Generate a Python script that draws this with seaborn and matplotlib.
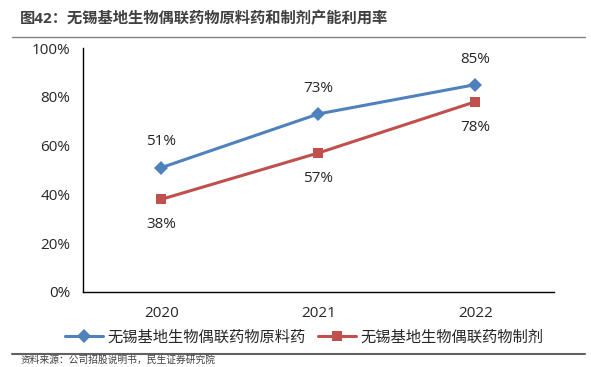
import numpy as np
import pandas as pd
import seaborn as sns
import matplotlib.pyplot as plt
from matplotlib.ticker import PercentFormatter

years = ['2020', '2021', '2022']
api = [51, 73, 85]
drug = [38, 57, 78]
api_name = '无锡基地生物偶联药物原料药'
drug_name = '无锡基地生物偶联药物制剂'

sns.set_style('white')
plt.rcParams['font.family'] = ['Open Sans', 'Noto Sans CJK SC', 'DejaVu Sans']

df = pd.DataFrame({'x': list(range(len(years))) * 2,
                   'val': api + drug,
                   'series': [api_name] * 3 + [drug_name] * 3})

fig = plt.figure(figsize=(5.91, 3.67), dpi=100)
ax = fig.add_axes([0.1404, 0.2044, 0.797, 0.6648])

sns.lineplot(data=df, x='x', y='val', hue='series', style='series',
             palette=['#4F81BD', '#C0504D'], markers=['D', 's'], dashes=False,
             markersize=7, linewidth=2.2, markeredgewidth=0, ax=ax)

for i, v in enumerate(api):
    ax.annotate(f'{v}%', (i, v), xytext=(0, 13), textcoords='offset points',
                ha='center', va='bottom', fontsize=11)
for i, v in enumerate(drug):
    ax.annotate(f'{v}%', (i, v), xytext=(0, -13), textcoords='offset points',
                ha='center', va='top', fontsize=11)

ax.set_xlim(-0.5, 2.5)
ax.set_ylim(0, 100)
ax.set_yticks(np.arange(0, 101, 20))
ax.yaxis.set_major_formatter(PercentFormatter(decimals=0))
ax.set_xticks([-0.5, 0.5, 1.5, 2.5])
ax.set_xticklabels([])
ax.set_xticks(range(len(years)), minor=True)
ax.set_xticklabels(years, minor=True)
ax.tick_params(axis='x', which='major', length=5, width=1, direction='out', color='black')
ax.tick_params(axis='x', which='minor', length=0, pad=10, labelsize=11)
ax.tick_params(axis='y', length=5, width=1, direction='out', color='black', labelsize=11, pad=4)
ax.set_xlabel('')
ax.set_ylabel('')
for s in ['top', 'right']:
    ax.spines[s].set_visible(False)
for s in ['left', 'bottom']:
    ax.spines[s].set_color('black')
    ax.spines[s].set_linewidth(1)

ax.legend(loc='center', bbox_to_anchor=(0.47, -0.19), ncol=2, frameon=False,
          fontsize=11, handlelength=2.5, columnspacing=0.8, handletextpad=0.3)

fig.text(0.034, 0.95, '图42：无锡基地生物偶联药物原料药和制剂产能利用率', fontsize=11,
         fontweight='bold', color='#404040', va='center')
fig.add_artist(plt.Line2D([0.02, 0.99], [0.9, 0.9], color='#808080', linewidth=1))
fig.add_artist(plt.Line2D([0.02, 0.99], [0.035, 0.035], color='#606060', linewidth=1.5))
fig.text(0.034, 0.003, '资料来源：公司招股说明书，民生证券研究院', fontsize=7,
         color='#404040', va='bottom')

fig.savefig('out.png', dpi=100)
